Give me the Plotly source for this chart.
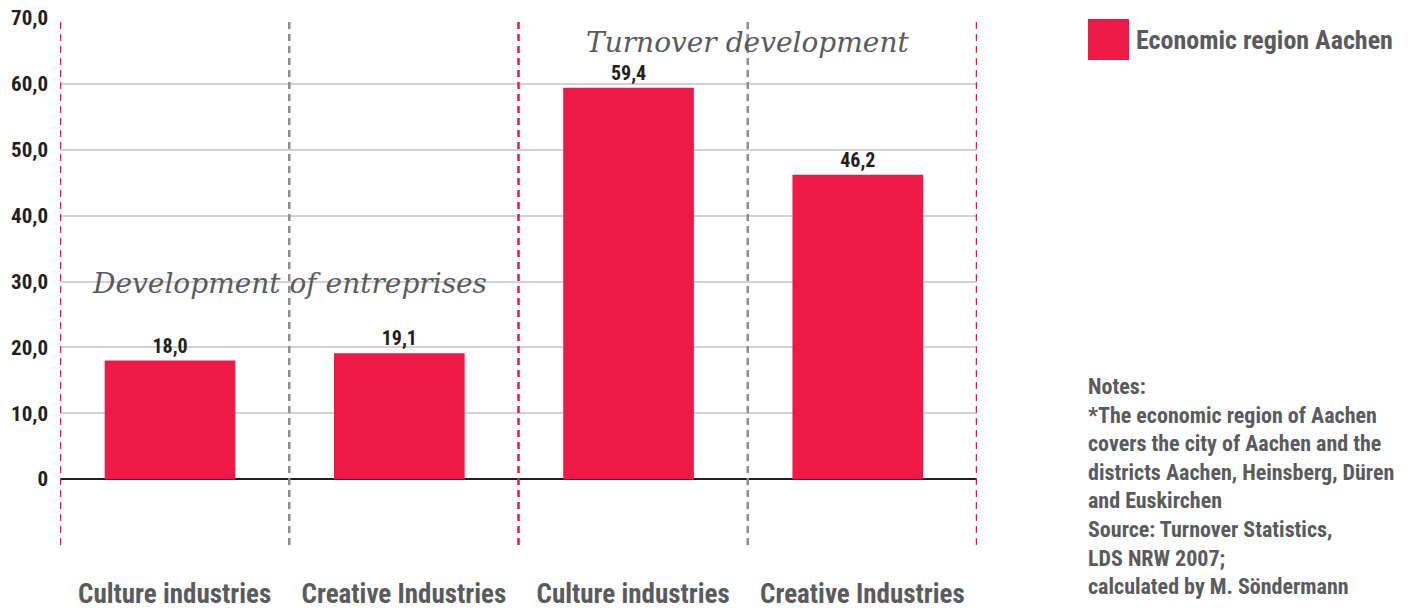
import plotly.graph_objects as go

# Change in enterprises and turnover, Economic region Aachen (percent)
categories = ["Culture industries", "Creative Industries", "Culture industries", "Creative Industries"]
values = [18.0, 19.1, 59.4, 46.2]
value_labels = ["18,0", "19,1", "59,4", "46,2"]
series_name = "Economic region Aachen"
y_ticks = [0, 10, 20, 30, 40, 50, 60, 70]
y_tick_labels = ["0", "10,0", "20,0", "30,0", "40,0", "50,0", "60,0", "70,0"]
notes_lines = [
    "Notes:",
    "*The economic region of Aachen",
    "covers the city of Aachen and the",
    "districts Aachen, Heinsberg, Düren",
    "and Euskirchen",
    "Source: Turnover Statistics,",
    "LDS NRW 2007;",
    "calculated by M. Söndermann",
]

RED = "#ee1946"
GREY_TXT = "#5a5b5d"
DARK = "#231f20"
COND = "Roboto Condensed, Roboto, sans-serif"
SERIF = "DejaVu Serif, Liberation Serif, serif"

x_pos = list(range(len(categories)))

fig = go.Figure()
fig.add_trace(go.Bar(
    x=x_pos, y=values, name=series_name,
    marker=dict(color=RED, line=dict(width=0)),
    width=0.57, offset=-0.305,
    text=value_labels, textposition="outside",
    textfont=dict(family=COND, size=20, color=DARK, weight="bold"),
    cliponaxis=False, showlegend=False,
))

# vertical dashed separators between categories / sections
for xv, col in [(-0.5, RED), (0.5, "#8e8e90"), (1.5, RED), (2.5, "#8e8e90"), (3.5, RED)]:
    fig.add_shape(type="line", xref="x", yref="y", x0=xv, x1=xv, y0=-10, y1=70,
                  line=dict(color=col, width=2.5, dash="7px,5px"), layer="above")

# section titles
fig.add_annotation(x=0.5, y=29.7, xref="x", yref="y", text="Development of entreprises",
                   showarrow=False, font=dict(family=SERIF, size=28, color=GREY_TXT, style="italic"))
fig.add_annotation(x=2.5, y=66.3, xref="x", yref="y", text="Turnover development",
                   showarrow=False, font=dict(family=SERIF, size=28, color=GREY_TXT, style="italic"))

# legend
fig.add_shape(type="rect", xref="paper", yref="paper",
              x0=(1088 - 60) / 917, x1=(1129 - 60) / 917,
              y0=(545 - 60) / 527, y1=(545 - 19) / 527,
              fillcolor=RED, line=dict(width=0))
fig.add_annotation(xref="paper", yref="paper", x=(1134 - 60) / 917, y=(545 - 40) / 527,
                   xanchor="left", yanchor="middle", showarrow=False, text=series_name,
                   font=dict(family=COND, size=26, color=GREY_TXT, weight="bold"))

# notes block
fig.add_annotation(xref="paper", yref="paper", x=(1086 - 60) / 917, y=(545 - 372) / 527,
                   xanchor="left", yanchor="top", align="left", showarrow=False,
                   text="<br>".join(notes_lines),
                   font=dict(family=COND, size=22, color=GREY_TXT, weight="bold"))

fig.update_layout(
    width=1414, height=610,
    margin=dict(l=60, r=437, t=18, b=65, autoexpand=False),
    plot_bgcolor="white", paper_bgcolor="white",
    xaxis=dict(range=[-0.5, 3.5], tickmode="array", tickvals=x_pos, ticktext=categories,
               showgrid=False, zeroline=False, showline=False, ticks="",
               tickangle=0, automargin=False, ticklabelstandoff=30,
               tickfont=dict(family=COND, size=27, color=GREY_TXT, weight="bold")),
    yaxis=dict(range=[-10, 70], tickmode="array", tickvals=[-10] + y_ticks, ticktext=[""] + y_tick_labels,
               showgrid=True, gridcolor="#d3d3d3", gridwidth=2,
               zeroline=True, zerolinecolor=DARK, zerolinewidth=2,
               showline=False, ticks="", ticklabelstandoff=11, automargin=False,
               tickfont=dict(family=COND, size=21, color=DARK, weight="bold")),
    showlegend=False,
)

fig.write_html("out.html")
